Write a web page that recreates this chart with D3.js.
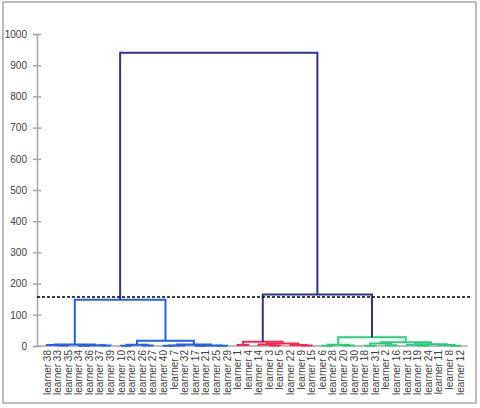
<!DOCTYPE html>
<html>
<head>
<meta charset="utf-8">
<script src="https://cdn.jsdelivr.net/npm/d3@7"></script>
<style>
	body { margin: 0; background: #fff; }
	text { font-family: "Liberation Sans", Arial, sans-serif; fill: #404040; }
</style>
</head>
<body>
<div id="wrapper"></div>
<script>

// 1. Data: merges as [left, right, height]; numbers are learners, "mN" refers to merge N

const merges = [
	[33, 35, 1.5],      // m0
	[38, "m0", 3],      // m1
	[34, 36, 1],        // m2
	[37, 39, 1.5],      // m3
	["m2", "m3", 2.5],  // m4
	["m1", "m4", 5],    // m5
	[10, 23, 1],        // m6
	[26, 27, 2],        // m7
	["m6", "m7", 4],    // m8
	[40, 7, 1],         // m9
	["m9", 32, 2],      // m10
	[17, 21, 1],        // m11
	[25, 29, 0.5],      // m12
	["m11", "m12", 2],  // m13
	["m10", "m13", 4.5],// m14
	["m8", "m14", 17],  // m15
	["m5", "m15", 148], // m16
	[1, 4, 3],          // m17
	[3, 5, 2],          // m18
	[14, "m18", 5],     // m19
	[9, 15, 1.5],       // m20
	[22, "m20", 3],     // m21
	["m19", "m21", 8],  // m22
	["m17", "m22", 14], // m23
	[6, 28, 1],         // m24
	[20, 30, 2],        // m25
	["m24", "m25", 4],  // m26
	[18, 31, 1],        // m27
	[2, 16, 2.5],       // m28
	["m27", "m28", 8],  // m29
	[19, 24, 2],        // m30
	[13, "m30", 4],     // m31
	[8, 12, 1],         // m32
	[11, "m32", 3],     // m33
	["m31", "m33", 6],  // m34
	["m29", "m34", 12], // m35
	["m26", "m35", 28], // m36
	["m23", "m36", 165],// m37
	["m16", "m37", 940] // m38
];

const cutHeight = 157;
const yTicks = [0, 100, 200, 300, 400, 500, 600, 700, 800, 900, 1000];
const clusterColors = ["#2160f2", "#ff2352", "#25cf7d"];
const topColor = "#2e3192";

// 2. Build tree

const build = ref => {
	if (typeof ref === "number") return { name: "learner " + ref, height: 0 };
	const m = merges[+ref.slice(1)];
	return { height: m[2], children: [build(m[0]), build(m[1])] };
};
const root = d3.hierarchy(build("m" + (merges.length - 1)));
const leafNames = root.leaves().map(d => d.data.name);

// 3. Dimensions and scales

const dimensions = { width: 480, height: 408 };

const xScale = d3.scalePoint()
	.domain(leafNames)
	.range([47, 460]);

const yScale = d3.scaleLinear()
	.domain([0, 1000])
	.range([346, 34]);

root.eachAfter(d => {
	d.x = d.children ? (d.children[0].x + d.children[1].x) / 2 : xScale(d.data.name);
});

// cluster colours: each subtree under the cut gets the next colour
let colorIndex = 0;
const assign = (node, color) => {
	if (!node.children) return;
	if (node.data.height > cutHeight) {
		node.color = topColor;
		node.children.forEach(c => assign(c, null));
	} else {
		const col = color || clusterColors[colorIndex++ % clusterColors.length];
		node.color = col;
		node.children.forEach(c => assign(c, col));
	}
};
assign(root, null);

// 4. Draw

const svg = d3.select("#wrapper")
	.append("svg")
	.attr("width", dimensions.width)
	.attr("height", dimensions.height);

svg.append("rect")
	.attr("x", 3).attr("y", 2)
	.attr("width", 473).attr("height", 401)
	.attr("fill", "#fff")
	.attr("stroke", "#a6a6a6")
	.attr("stroke-width", 1.5);

// baseline
svg.append("line")
	.attr("x1", 37).attr("x2", 468)
	.attr("y1", yScale(0)).attr("y2", yScale(0))
	.attr("stroke", "#a6a6a6")
	.attr("stroke-width", 1.5);

const yAxis = svg.append("g")
	.attr("transform", "translate(37,0)")
	.call(d3.axisLeft(yScale).tickValues(yTicks).tickFormat(d3.format("d"))
		.tickSizeOuter(0).tickSize(4).tickPadding(6));
yAxis.select(".domain").attr("stroke", "#a6a6a6").attr("stroke-width", 1.5);
yAxis.selectAll(".tick line").attr("x1", 4).attr("x2", -4).attr("stroke", "#a6a6a6").attr("stroke-width", 1.5);
yAxis.selectAll(".tick text").style("font-size", "10px").attr("fill", "#404040");

// links
svg.append("g")
	.selectAll("path")
	.data(root.descendants().filter(d => d.children).sort((a, b) => a.data.height - b.data.height))
	.join("path")
	.attr("fill", "none")
	.attr("stroke", d => d.color)
	.attr("stroke-width", 2)
	.attr("d", d => {
		const [l, r] = d.children;
		return `M${l.x},${yScale(l.data.height)}V${yScale(d.data.height)}H${r.x}V${yScale(r.data.height)}`;
	});

// cut line
svg.append("line")
	.attr("x1", 37).attr("x2", 472)
	.attr("y1", yScale(cutHeight)).attr("y2", yScale(cutHeight))
	.attr("stroke", "#000")
	.attr("stroke-width", 1.5)
	.attr("stroke-dasharray", "3,2");

// leaf labels
svg.append("g")
	.selectAll("text")
	.data(leafNames)
	.join("text")
	.attr("transform", d => `translate(${xScale(d) + 3.5},${yScale(0) + 4}) rotate(-90)`)
	.attr("text-anchor", "end")
	.style("font-size", "10px")
	.text(d => d);

</script>
</body>
</html>
